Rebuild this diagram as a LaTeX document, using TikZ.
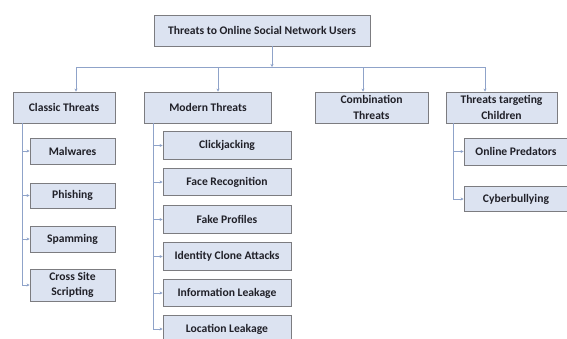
\documentclass[tikz,border=0pt]{standalone}
\usepackage{fontspec}
\setmainfont{Carlito}
\usetikzlibrary{arrows.meta}
\definecolor{boxfill}{HTML}{DCE3F1}
\definecolor{boxline}{HTML}{7C7C80}
\definecolor{linkline}{HTML}{8FA3C9}
\definecolor{txt}{HTML}{202028}
\begin{document}
\begin{tikzpicture}[x=1pt,y=-1pt,font=\bfseries\fontsize{11.6}{15.5}\selectfont,text=txt,
    ->,>={Stealth[length=3pt,width=3pt]},draw=linkline,line width=0.7pt]
    \tikzstyle{box}=[rectangle,draw=boxline,fill=boxfill,line width=0.9pt,align=center,inner sep=0pt]
    \useasboundingbox (0,0) rectangle (567,338);

    \node[box,minimum width=216,minimum height=31] (root) at (262,30.5) {Threats to Online Social Network Users};

    % first level
    \node[box,minimum width=102,minimum height=31] (classic) at (64,107.5) {Classic Threats};
    \node[box,minimum width=127,minimum height=31] (modern) at (208,107.5) {Modern Threats};
    \node[box,minimum width=113,minimum height=31] (combo) at (371.5,107.5) {Combination\\Threats};
    \node[box,minimum width=111,minimum height=31] (kids) at (501.5,107.5) {Threats targeting\\Children};

    \coordinate (top) at (272,67);
    \coordinate (b-1) at (76,67);
    \coordinate (b-2) at (218,67);
    \coordinate (b-3) at (363,67);
    \coordinate (b-4) at (485,67);
    \draw (root.south -| top) -- (top);
    \draw[-] (b-1) -- (b-4);
    \draw (b-1) -- (b-1 |- classic.north);
    \draw (b-2) -- (b-2 |- modern.north);
    \draw (b-3) -- (b-3 |- combo.north);
    \draw (b-4) -- (b-4 |- kids.north);

    % classic threats
    \coordinate (c-rail) at (22,0);
    \foreach \n/\t/\y/\h in {mal/Malwares/151/26, phi/Phishing/195.5/25, spa/Spamming/239/26, css/{Cross Site\\Scripting}/285/32}
    {
    \node[box,minimum width=85,minimum height=\h] (\n) at (72.5,\y) {\t};
    \draw (c-rail |- \n.west) -- (\n.west);
    }
    \draw[-] (c-rail |- classic.south) -- (c-rail |- css.west);

    % modern threats
    \coordinate (m-rail) at (153,0);
    \foreach \n/\t/\y in {clk/Clickjacking/145.5, fac/Face Recognition/182, fak/Fake Profiles/219.5, idc/Identity Clone Attacks/256.5, inf/Information Leakage/293, loc/Location Leakage/329}
    {
    \node[box,minimum width=128,minimum height=27.5] (\n) at (227,\y) {\t};
    \draw (m-rail |- \n.west) -- (\n.west);
    }
    \draw[-] (m-rail |- modern.south) -- (m-rail |- loc.west);

    % threats targeting children
    \coordinate (k-rail) at (453,0);
    \node[box,minimum width=104,minimum height=27] (opr) at (516,151.5) {Online Predators};
    \node[box,minimum width=104,minimum height=25] (cyb) at (516,199) {Cyberbullying};
    \draw (k-rail |- opr.west) -- (opr.west);
    \draw (k-rail |- cyb.west) -- (cyb.west);
    \draw[-] (k-rail |- kids.south) -- (k-rail |- cyb.west);
\end{tikzpicture}
\end{document}
